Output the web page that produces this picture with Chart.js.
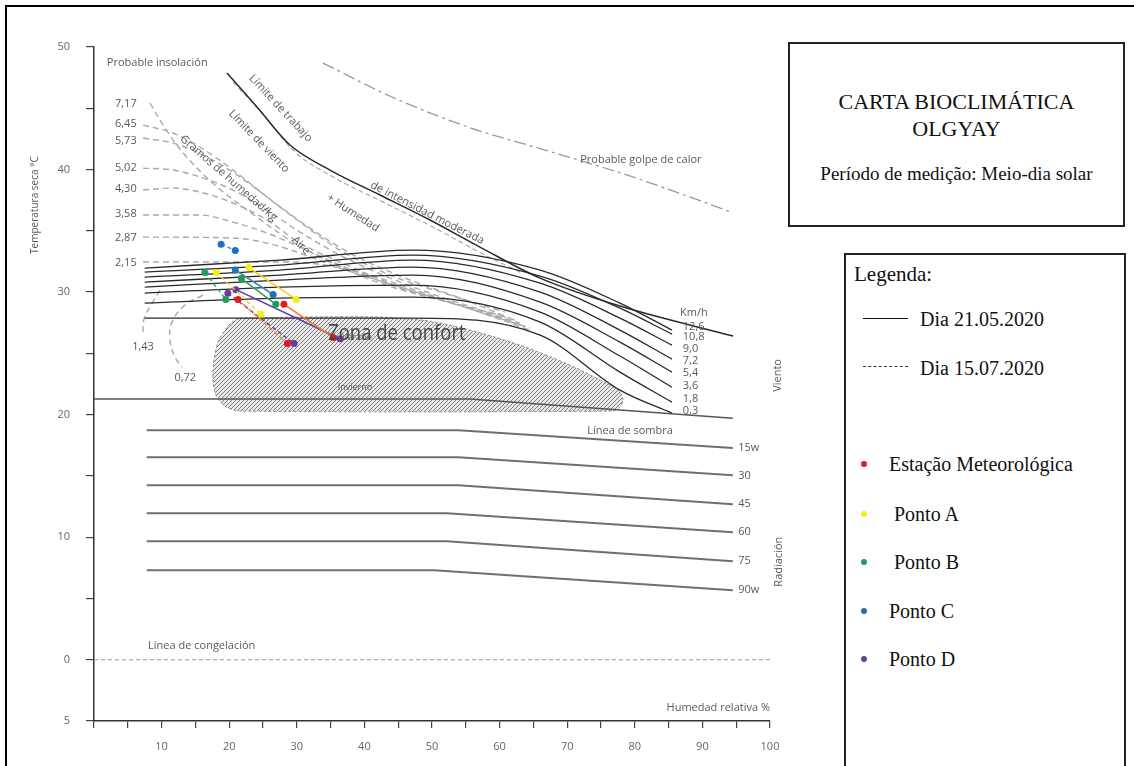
<!DOCTYPE html>
<html>
<head>
<meta charset="utf-8">
<script src="https://cdn.jsdelivr.net/npm/chart.js@4.4.1/dist/chart.umd.min.js"></script>
<style>
  html, body { margin:0; padding:0; background:#fff; }
  #wrap { position:relative; width:1134px; height:766px; overflow:hidden; background:#fff; }
  #frame { position:absolute; left:5px; top:5px; width:1200px; height:900px; border-left:2px solid #000; border-top:2px solid #000; }
  #chart { position:absolute; left:0; top:0; }
  .box { position:absolute; border:2px solid #222; background:#fff; font-family:'Liberation Serif','Times New Roman',serif; color:#111; }
  .t { position:absolute; white-space:nowrap; line-height:1; }
  .c { left:0; right:0; text-align:center; }
  .dot { position:absolute; width:6px; height:6px; border-radius:50%; }
</style>
</head>
<body>
<div id="wrap">
  <canvas id="chart" width="1134" height="766"></canvas>
  <div id="frame"></div>
  <div class="box" style="left:788px; top:42px; width:333px; height:181px;">
    <div class="t c" style="top:47px; font-size:22px;">CARTA BIOCLIMÁTICA</div>
    <div class="t c" style="top:74px; font-size:22px;">OLGYAY</div>
    <div class="t c" style="top:120px; font-size:19px;">Período de medição: Meio-dia solar</div>
  </div>
  <div class="box" id="legend" style="left:844px; top:253px; width:278px; height:600px;"></div>
</div>
<script>
// ---------------- DATA ----------------
// Axis ticks
const xTickValues = [10, 20, 30, 40, 50, 60, 70, 80, 90, 100];
const xTickText   = ['10','20','30','40','50','60','70','80','90','100'];
const yTickValues = [-5, 0, 10, 20, 30, 40, 50];
const yTickText   = ['5','0','10','20','30','40','50'];

// Station measurements [RH %, T °C]
const stationNames  = ['Estação Meteorológica', 'Ponto A', 'Ponto B', 'Ponto C', 'Ponto D'];
const stationColors = ['#e3191f', '#f3ee14', '#1f9d55', '#2270b5', '#6a3a9e'];
const lineColors    = ['#ef7d2d', '#f2d51c', '#2ea760', '#4f86a8', '#5e3fa6'];
const day1RH = [[28.1, 35.4], [22.9, 29.9], [21.8, 26.9], [20.9, 26.5], [21.0, 36.4]];
const day1T  = [[29.0, 26.3], [32.0, 29.4], [31.1, 29.0], [31.8, 29.8], [30.2, 26.2]];
const day2RH = [[21.3, 28.6], [18.1, 24.7], [16.4, 19.5], [18.8, 20.9], [19.8, 29.6]];
const day2T  = [[29.4, 25.8], [31.6, 28.2], [31.6, 29.4], [33.9, 33.4], [29.9, 25.8]];

// Wind lines (km/h)
const windLabels = ['12,6', '10,8', '9,0', '7,2', '5,4', '3,6', '1,8', '0,3'];
const windRH = [7.5, 27.5, 47.2, 66.0, 77.8, 85.5];
const wind126 = [31.96, 32.61, 33.43, 31.80, 29.10, 26.90];
const wind108 = [31.63, 32.20, 33.02, 31.31, 28.69, 26.57];
const wind90  = [31.22, 31.80, 32.61, 30.73, 27.88, 25.67];
const wind72  = [30.82, 31.39, 32.04, 30.00, 26.90, 24.53];
const wind54  = [30.41, 30.98, 31.39, 29.18, 25.92, 23.47];
const wind36  = [29.92, 30.41, 30.57, 28.37, 24.78, 22.24];
const wind18  = [29.10, 29.51, 29.59, 27.55, 23.47, 21.02];
const wind03  = [27.88, 27.88, 27.88, 26.49, 22.00, 20.12];
const windLabelT = [27.14, 26.33, 25.35, 24.37, 23.39, 22.33, 21.27, 20.29];

// Radiation lines (W)
const radLabels = ['15w', '30', '45', '60', '75', '90w'];
const radLabelT = [17.27, 14.98, 12.69, 10.41, 8.04, 5.67];
const rad15RH = [7.8, 53.9, 94.5]; const rad15T = [18.73, 18.73, 17.27];
const rad30RH = [7.8, 53.9, 94.5]; const rad30T = [16.53, 16.53, 15.06];
const rad45RH = [7.8, 53.9, 94.5]; const rad45T = [14.24, 14.24, 12.69];
const rad60RH = [7.8, 52.2, 94.5]; const rad60T = [11.96, 11.96, 10.41];
const rad75RH = [7.8, 52.2, 94.5]; const rad75T = [9.67, 9.67, 8.04];
const rad90RH = [7.8, 50.3, 94.5]; const rad90T = [7.31, 7.31, 5.67];

// Shade line, freezing line
const sombraRH = [0, 55.6, 94.5];   const sombraT = [21.27, 21.27, 19.71];
const frostRH  = [0, 100];          const frostT  = [0, 0];

// Work limit (moderate intensity) and wind limit
const trabajoRH = [19.67, 24.11, 28.99, 34.91, 42.31, 49.70, 57.10, 65.98, 77.81, 94.53];
const trabajoT  = [47.88, 45.10, 42.00, 39.96, 37.92, 35.88, 33.67, 31.14, 28.86, 26.41];
const vientoRH  = [20.56, 24.85, 29.73, 35.65, 43.05, 50.44, 57.84, 63.02];
const vientoT   = [47.14, 44.61, 41.43, 39.31, 37.27, 35.22, 33.02, 31.63];

// Probable heat stroke
const golpeRH = [33.88, 44.08, 55.33, 66.72, 77.96, 86.54, 94.23];
const golpeT  = [48.69, 45.92, 43.47, 41.59, 39.71, 38.08, 36.53];

// Moisture (g/kg) curves
const moistLabels = ['7,17', '6,45', '5,73', '5,02', '4,30', '3,58', '2,87', '2,15'];
const moistLabelT = [45.35, 43.71, 42.33, 40.12, 38.41, 36.37, 34.41, 32.37];
const m717RH = [8.28, 10.50, 13.46, 17.90, 23.08, 28.99, 34.91, 42.31, 51.18, 60.06];
const m717T  = [45.43, 43.39, 41.18, 38.73, 36.53, 34.24, 32.45, 30.73, 29.35, 28.12];
const m645RH = [7.25, 11.69, 15.68, 20.56, 25.59, 30.47, 36.39, 43.79, 52.66, 60.80];
const m645T  = [43.63, 42.98, 41.84, 39.96, 37.76, 35.71, 33.43, 31.39, 29.76, 28.37];
const m573RH = [7.25, 11.69, 16.72, 21.60, 26.78, 31.95, 37.87, 45.27, 54.14, 61.54];
const m573T  = [42.57, 42.16, 41.02, 39.39, 37.27, 35.22, 33.18, 31.31, 29.51, 27.88];
const m502RH = [7.25, 11.69, 15.68, 20.56, 25.59, 30.47, 36.39, 43.79, 52.66, 62.28];
const m502T  = [40.12, 39.96, 39.39, 38.33, 36.69, 34.90, 33.02, 31.14, 29.35, 27.71];
const m430RH = [7.25, 11.69, 15.68, 20.56, 25.59, 30.47, 36.39, 44.53, 54.14, 63.02];
const m430T  = [38.33, 38.49, 38.16, 37.27, 35.88, 34.00, 32.45, 30.57, 28.94, 27.47];
const m358RH = [7.25, 15.68, 20.56, 25.59, 30.47, 36.39, 45.27, 55.62, 63.76];
const m358T  = [36.29, 36.29, 35.71, 34.82, 33.67, 32.20, 30.33, 28.69, 27.22];
const m287RH = [7.25, 20.56, 25.59, 30.47, 36.39, 46.75, 57.10, 64.50];
const m287T  = [34.49, 34.41, 34.00, 33.18, 31.96, 30.16, 28.37, 27.06];
const m215RH = [7.25, 28.99, 37.87, 49.70, 64.50];
const m215T  = [32.45, 32.45, 31.80, 29.76, 26.90];
const m143RH = [9.76, 8.50, 7.40, 7.25];
const m143T  = [30.16, 29.00, 27.80, 26.60];
const m072RH = [16.12, 13.46, 11.54, 11.24, 11.98, 13.02];
const m072T  = [29.76, 28.94, 27.55, 26.08, 24.69, 23.88];

// Comfort zone outline
const confortRH = [21.6, 30.47, 42.31, 49.70, 55.62, 63.02, 70.41, 76.33, 77.81, 78.25, 77.81, 76.63, 21.6, 19.38, 18.05, 17.60, 17.75, 18.34, 19.38, 20.41, 21.6];
const confortT  = [27.88, 27.96, 27.96, 27.63, 26.90, 25.67, 24.04, 22.41, 21.84, 21.18, 20.61, 20.29, 20.29, 20.69, 21.59, 22.82, 24.45, 25.92, 26.90, 27.55, 27.88];

// ---------------- BUILD ----------------
const pts = (xs, ys) => xs.map((v, i) => ({x: v, y: ys[i]}));
const base = { showLine: true, pointRadius: 0, pointHoverRadius: 0, fill: false, clip: false };

const datasets = [];
function addLine(xs, ys, style) { datasets.push(Object.assign({}, base, {data: pts(xs, ys)}, style)); }

const windStyle = { borderColor: '#2a2a2a', borderWidth: 1.3, cubicInterpolationMode: 'monotone', order: 5 };
[wind126, wind108, wind90, wind72, wind54, wind36, wind18, wind03].forEach(arr => addLine(windRH, arr, windStyle));

const radStyle = { borderColor: '#6f6f6f', borderWidth: 2, tension: 0, order: 5 };
addLine(rad15RH, rad15T, radStyle); addLine(rad30RH, rad30T, radStyle); addLine(rad45RH, rad45T, radStyle);
addLine(rad60RH, rad60T, radStyle); addLine(rad75RH, rad75T, radStyle); addLine(rad90RH, rad90T, radStyle);

addLine(sombraRH, sombraT, { borderColor: '#555', borderWidth: 1.5, tension: 0, order: 5 });
addLine(frostRH, frostT, { borderColor: '#999', borderWidth: 1.2, borderDash: [4, 3], tension: 0, order: 5 });
addLine(trabajoRH, trabajoT, { borderColor: '#2a2a2a', borderWidth: 1.5, cubicInterpolationMode: 'monotone', order: 5 });
addLine(vientoRH, vientoT, { borderColor: '#aaa', borderWidth: 1.2, borderDash: [5, 3], cubicInterpolationMode: 'monotone', order: 6 });
addLine(golpeRH, golpeT, { borderColor: '#9a9a9a', borderWidth: 1.3, borderDash: [12, 4, 3, 4], cubicInterpolationMode: 'monotone', order: 6 });

const moistStyle = { borderColor: '#a9a9a9', borderWidth: 1.4, borderDash: [6, 4], cubicInterpolationMode: 'monotone', order: 6 };
addLine(m717RH, m717T, Object.assign({}, moistStyle, {cubicInterpolationMode: 'default', tension: 0.35}));
addLine(m645RH, m645T, moistStyle); addLine(m573RH, m573T, moistStyle); addLine(m502RH, m502T, moistStyle);
addLine(m430RH, m430T, moistStyle); addLine(m358RH, m358T, moistStyle); addLine(m287RH, m287T, moistStyle);
addLine(m215RH, m215T, moistStyle);
addLine(m143RH, m143T, Object.assign({}, moistStyle, {cubicInterpolationMode: 'default', tension: 0.4}));
addLine(m072RH, m072T, Object.assign({}, moistStyle, {cubicInterpolationMode: 'default', tension: 0.4}));

function hatch() {
  const c = document.createElement('canvas'); c.width = 4; c.height = 4;
  const g = c.getContext('2d');
  g.fillStyle = '#e9e9e9'; g.fillRect(0, 0, 4, 4);
  g.strokeStyle = '#7e7e7e'; g.lineWidth = 1;
  g.beginPath();
  g.moveTo(0, 4); g.lineTo(4, 0);
  g.moveTo(-1, 1); g.lineTo(1, -1);
  g.moveTo(3, 5); g.lineTo(5, 3);
  g.stroke();
  return g.createPattern(c, 'repeat');
}
addLine(confortRH, confortT, { borderColor: '#8f8f8f', borderWidth: 1, borderDash: [3, 2], backgroundColor: hatch(), fill: 'shape', tension: 0.25, order: 10 });

// Station measurement segments
for (let i = 0; i < stationNames.length; i++) {
  addLine(day1RH[i], day1T[i], { borderColor: lineColors[i], borderWidth: 1.6, tension: 0, pointRadius: 3.5,
    pointBackgroundColor: stationColors[i], pointBorderWidth: 0, order: 1 });
  addLine(day2RH[i], day2T[i], { borderColor: lineColors[i], borderWidth: 1.4, borderDash: [4, 3], tension: 0, pointRadius: 3.5,
    pointBackgroundColor: stationColors[i], pointBorderWidth: 0, order: 1 });
}

// ---------------- TEXT ANNOTATIONS (positions in data units) ----------------
const notes = [
  {text: 'Probable insolación', rh: 1.9, t: 48.7, align: 'left', size: 11},
  {text: '1,43', rh: 7.25, t: 25.5, size: 11},
  {text: '0,72', rh: 13.5, t: 23.0, size: 11},
  {text: 'Límite de trabajo', rh: 27.6, t: 45.0, rot: 47, size: 11},
  {text: 'Límite de viento', rh: 24.4, t: 42.3, rot: 46, size: 11},
  {text: 'Gramos de humedad/kg', rh: 19.9, t: 39.3, rot: 41, size: 11},
  {text: 'Aire', rh: 30.6, t: 33.8, rot: 45, size: 11},
  {text: '+ Humedad', rh: 38.3, t: 36.45, rot: 33, size: 11},
  {text: 'de intensidad moderada', rh: 49.3, t: 36.45, rot: 27, size: 11},
  {text: 'Probable golpe de calor', rh: 80.9, t: 40.8, size: 11},
  {text: 'Km/h', rh: 86.7, t: 28.3, align: 'left', size: 11},
  {text: 'Viento', rh: 101.2, t: 23.2, rot: -90, size: 11},
  {text: 'Radiación', rh: 101.3, t: 8.0, rot: -90, size: 11},
  {text: 'Línea de sombra', rh: 79.3, t: 18.65, size: 11},
  {text: 'Línea de congelación', rh: 8.0, t: 1.1, align: 'left', size: 11},
  {text: 'Humedad relativa %', rh: 100, t: -3.96, align: 'right', size: 11},
  {text: 'Zona de confort', rh: 44.8, t: 26.6, size: 21, sx: 0.88, color: '#454545'},
  {text: 'Verano', rh: 38.9, t: 26.33, size: 9},
  {text: 'Invierno', rh: 38.6, t: 22.24, size: 9},
  {text: 'Temperatura seca °C', rh: -8.7, t: 37.1, rot: -90, size: 10}
];
moistLabels.forEach((l, i) => notes.push({text: l, rh: 3.1, t: moistLabelT[i], align: 'left', size: 11}));
windLabels.forEach((l, i) => notes.push({text: l, rh: 87.1, t: windLabelT[i], align: 'left', size: 11}));
radLabels.forEach((l, i) => notes.push({text: l, rh: 95.3, t: radLabelT[i], align: 'left', size: 11}));

const textPlugin = {
  id: 'chartTexts',
  afterDatasetsDraw(chart) {
    const {ctx, scales} = chart;
    notes.forEach(n => {
      ctx.save();
      ctx.translate(scales.x.getPixelForValue(n.rh), scales.y.getPixelForValue(n.t));
      ctx.rotate((n.rot || 0) * Math.PI / 180);
      if (n.sx) ctx.scale(n.sx, 1);
      ctx.font = n.size + 'px "Open Sans", "DejaVu Sans", sans-serif';
      ctx.fillStyle = n.color || '#5a5a5a';
      ctx.textAlign = n.align || 'center';
      ctx.textBaseline = 'middle';
      ctx.fillText(n.text, 0, 0);
      ctx.restore();
    });
  }
};

new Chart(document.getElementById('chart'), {
  type: 'scatter',
  data: { datasets },
  options: {
    responsive: false,
    devicePixelRatio: 1,
    animation: false,
    events: [],
    layout: { padding: { left: 0, top: 47, right: 364, bottom: 0 } },
    plugins: { legend: { display: false }, tooltip: { enabled: false } },
    scales: {
      x: {
        type: 'linear', min: 0, max: 100,
        afterFit(s) { s.height = 45; },
        afterBuildTicks(s) { s.ticks = Array.from({length: 21}, (_, i) => ({value: i * 5})); },
        ticks: {
          autoSkip: false, maxRotation: 0, padding: 12, color: '#666',
          font: { family: '"Open Sans", sans-serif', size: 11 },
          callback: v => { const k = xTickValues.indexOf(v); return k >= 0 ? xTickText[k] : ''; }
        },
        grid: { drawOnChartArea: false, drawTicks: true, tickLength: 7, color: '#444', lineWidth: 1.2 },
        border: { display: true, color: '#333', width: 1.5 }
      },
      y: {
        type: 'linear', min: -5, max: 50,
        afterFit(s) { s.width = 94; },
        afterBuildTicks(s) { s.ticks = Array.from({length: 12}, (_, i) => ({value: -5 + i * 5})); },
        ticks: {
          autoSkip: false, padding: 16, color: '#666',
          font: { family: '"Open Sans", sans-serif', size: 11 },
          callback: v => { const k = yTickValues.indexOf(v); return k >= 0 ? yTickText[k] : ''; }
        },
        grid: { drawOnChartArea: false, drawTicks: true, tickLength: 8, color: '#444', lineWidth: 1.2 },
        border: { display: true, color: '#333', width: 1.5 }
      }
    }
  },
  plugins: [textPlugin]
});

// ---------------- HTML LEGEND ----------------
const lg = document.getElementById('legend');
let html = '<div class="t" style="left:8px; top:9px; font-size:21px;">Legenda:</div>';
html += '<div style="position:absolute; left:17px; top:63px; width:45px; border-top:1.5px solid #111;"></div>';
html += '<div class="t" style="left:74px; top:54px; font-size:20px;">Dia 21.05.2020</div>';
html += '<div style="position:absolute; left:17px; top:111px; width:45px; border-top:1.5px dashed #333;"></div>';
html += '<div class="t" style="left:74px; top:103px; font-size:20px;">Dia 15.07.2020</div>';
const legendTops = [209, 259, 307, 356, 404];
const legendIndent = [43, 48, 48, 43, 43];
stationNames.forEach((name, i) => {
  html += `<div class="dot" style="left:15px; top:${legendTops[i] - 3}px; background:${stationColors[i]};"></div>`;
  html += `<div class="t" style="left:${legendIndent[i]}px; top:${legendTops[i] - 10}px; font-size:20px;">${name}</div>`;
});
lg.innerHTML = html;
</script>
</body>
</html>
